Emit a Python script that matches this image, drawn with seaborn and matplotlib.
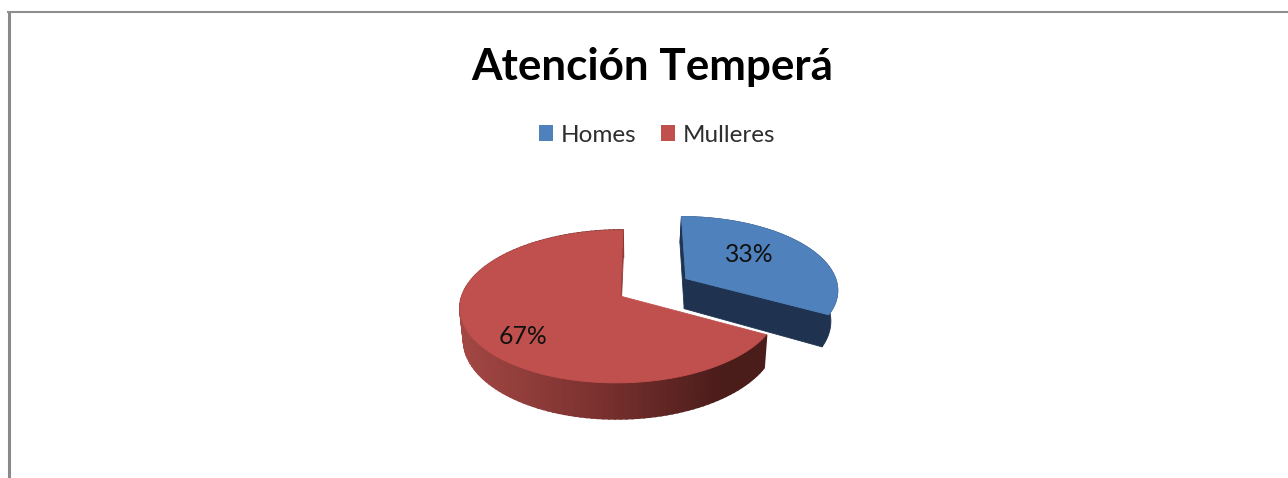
import numpy as np
import matplotlib
matplotlib.use("Agg")
import matplotlib.pyplot as plt
import seaborn as sns
from matplotlib.lines import Line2D
from matplotlib.patches import Patch

categories = ["Homes", "Mulleres"]
values = [33, 67]
title = "Atención Temperá"

top_colors = ["#4f81bd", "#c0504d"]
BLUE_SIDE = "#1f3350"
RED_CUT = "#9c3f3c"
RED_SIDE = ["#a34744", "#7c3230", "#4a1c1a"]

sns.set_theme(style="white")
plt.rcParams["font.family"] = ["Lato", "DejaVu Sans"]

fig = plt.figure(figsize=(12.88, 4.78), dpi=100, facecolor="white")
ax = fig.add_axes([0, 0, 1, 1])

wedges, _, autotexts = ax.pie(
    values, startangle=90, counterclock=False, colors=top_colors,
    explode=[0.47, 0], autopct="%1.0f%%")

# Chart-space view: one unit equals one pixel
ax.set_aspect("auto")
ax.set_xlim(0, 1288)
ax.set_ylim(478, 0)
ax.axis("off")

CX, CY, A, B, K, SHEAR, DEPTH = 620, 296, 158, 75, 0.137, -0.045, 31
VANISH_X = 640


def project(u, v, drop=0.0, taper=0.02, squeeze=1.0):
    w = 1 + K * v
    y = -B * v / w
    x = CX + A * u / w + SHEAR * y
    x = 838 - (838 - x) * squeeze if squeeze != 1.0 else x
    x = x + (VANISH_X - x) * taper * drop
    return x, CY + y + drop * DEPTH / w


def top_outline(c, t1, t2):
    th = np.radians(np.linspace(t1, t2, 160))
    u = np.r_[c[0], c[0] + np.cos(th)]
    v = np.r_[c[1], c[1] + np.sin(th)]
    return u, v


shapes = []
for wd in wedges:
    shapes.append((tuple(wd.center), wd.theta1, wd.theta2))
    wd.remove()
(blue_c, blue_t1, blue_t2), (red_c, red_t1, red_t2) = shapes


def poly(xs, ys, color, z, lw=0.6):
    ax.fill(xs, ys, color=color, lw=lw, zorder=z)


# Red slice: gradient rim, then the small cut face, then the top surface
th = np.linspace(red_t1, red_t2, 130)
ru, rv = red_c[0] + np.cos(np.radians(th)), red_c[1] + np.sin(np.radians(th))
tx, ty = project(ru, rv)
bx, by = project(ru, rv, 1)
n_grad = 120
grad = sns.blend_palette(RED_SIDE, n_grad)
xmin, xmax = 460, 725
order = np.arange(len(th) - 1)
for i in order:
    mid = 0.5 * (tx[i] + tx[i + 1])
    idx = int(np.clip((mid - xmin) / (xmax - xmin) * (n_grad - 1), 0, n_grad - 1))
    poly([tx[i], tx[i + 1], bx[i + 1], bx[i]],
         [ty[i], ty[i + 1], by[i + 1], by[i]], grad[idx], 2, lw=1.3)

ax_u = [red_c[0], red_c[0] + np.cos(np.radians(red_t1))]
ax_v = [red_c[1], red_c[1] + np.sin(np.radians(red_t1))]
x0, y0 = project(np.array(ax_u), np.array(ax_v))
x1, y1 = project(np.array(ax_u), np.array(ax_v), 1)
poly([x0[0], x0[1], x1[1], x1[0]], [y0[0], y0[1], y1[1], y1[0]], RED_CUT, 3)

u, v = top_outline(red_c, red_t1, red_t2)
px, py = project(u, v)
poly(px, py, top_colors[1], 4)

# Exploded blue slice
BLUE_KW = dict(taper=0.035, squeeze=0.98)
th = np.linspace(blue_t1, blue_t2, 140)
bu, bv = blue_c[0] + np.cos(np.radians(th)), blue_c[1] + np.sin(np.radians(th))
tx, ty = project(bu, bv, **BLUE_KW)
bx, by = project(bu, bv, 1, **BLUE_KW)
poly(np.r_[tx, bx[::-1]], np.r_[ty, by[::-1]], BLUE_SIDE, 5)
for t in (blue_t1, blue_t2):
    uu = np.array([blue_c[0], blue_c[0] + np.cos(np.radians(t))])
    vv = np.array([blue_c[1], blue_c[1] + np.sin(np.radians(t))])
    x0, y0 = project(uu, vv, **BLUE_KW)
    x1, y1 = project(uu, vv, 1, **BLUE_KW)
    poly([x0[0], x0[1], x1[1], x1[0]], [y0[0], y0[1], y1[1], y1[0]], BLUE_SIDE, 6)
u, v = top_outline(blue_c, blue_t1, blue_t2)
px, py = project(u, v, **BLUE_KW)
poly(px, py, top_colors[0], 7)

# Percent labels
for txt, pos in zip(autotexts, [(749.5, 254), (523.5, 336)]):
    txt.set_position(pos)
    txt.set(ha="center", va="center", fontsize=17.8, color="#111111", zorder=10)

# Title and legend
fig.suptitle(title, x=652.5 / 1288, y=1 - 67 / 478, va="center", ha="center",
             fontsize=31.7, fontweight="bold", color="black")
handles = [Patch(facecolor=c, edgecolor="none") for c in top_colors]
ax.legend(handles, categories, loc="center", bbox_to_anchor=(657 / 1288, 1 - 135 / 478),
          ncol=2, frameon=False, fontsize=17.5, handlelength=0.58, handleheight=0.62,
          handletextpad=0.33, columnspacing=1.0, labelcolor="#2e2e2e",
          borderpad=0, borderaxespad=0)

# Chart frame clipped by the crop: top and left edges
fig.add_artist(Line2D([8.5 / 1288, 8.5 / 1288], [0, 1 - 11 / 478],
                      color="#8a8a8a", lw=2.2, solid_capstyle="butt"))
fig.add_artist(Line2D([7 / 1288, 1], [1 - 12 / 478, 1 - 12 / 478],
                      color="#8f8f8f", lw=1.5, solid_capstyle="butt"))

fig.savefig("out.png", dpi=100, facecolor="white")
